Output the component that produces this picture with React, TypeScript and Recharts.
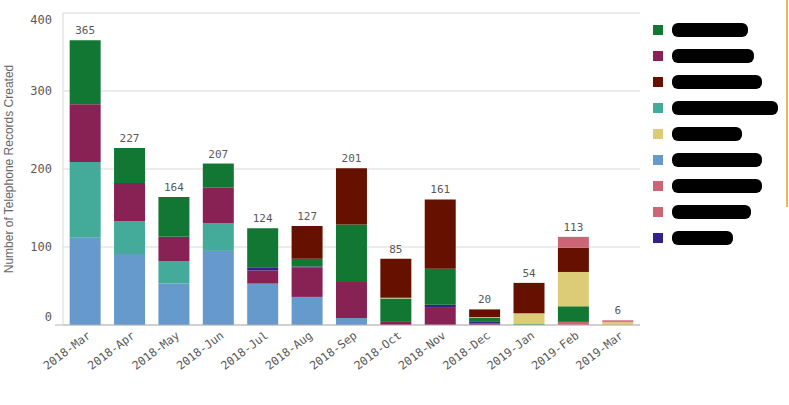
import {
  BarChart,
  Bar,
  XAxis,
  YAxis,
  CartesianGrid,
  LabelList,
} from "recharts";

const months = [
  "2018-Mar", "2018-Apr", "2018-May", "2018-Jun", "2018-Jul", "2018-Aug", "2018-Sep",
  "2018-Oct", "2018-Nov", "2018-Dec", "2019-Jan", "2019-Feb", "2019-Mar",
];

// series values, bottom of stack first
const blue = [112, 91, 53, 95, 53, 36, 9, 0, 0, 0, 0, 0, 0];
const teal = [97, 42, 29, 35, 0, 0, 0, 0, 0, 0, 0, 0, 0];
const purple = [74, 49, 31, 46, 17, 38, 46, 4, 23, 2, 0, 0, 0];
const navy = [0, 0, 0, 0, 4, 1, 0, 0, 3, 2, 0, 0, 0];
const pinkA = [0, 0, 0, 0, 0, 0, 0, 0, 0, 0, 0, 4, 0];
const green = [82, 45, 51, 31, 50, 10, 74, 30, 46, 5, 1, 20, 0];
const yellow = [0, 0, 0, 0, 0, 0, 0, 1, 0, 1, 14, 44, 4];
const darkRed = [0, 0, 0, 0, 0, 42, 72, 50, 89, 10, 39, 31, 0];
const pinkB = [0, 0, 0, 0, 0, 0, 0, 0, 0, 0, 0, 14, 2];

const yTicks = [0, 100, 200, 300, 400];

type Series = { key: string; name: string; color: string; values: number[] };

const stackSeries: Series[] = [
  { key: "blue", name: "Category F", color: "#6699cc", values: blue },
  { key: "teal", name: "Category D", color: "#44aa99", values: teal },
  { key: "purple", name: "Category B", color: "#882255", values: purple },
  { key: "navy", name: "Category I", color: "#332288", values: navy },
  { key: "pinkA", name: "Category G", color: "#cc6677", values: pinkA },
  { key: "green", name: "Category A", color: "#117733", values: green },
  { key: "yellow", name: "Category E", color: "#ddcc77", values: yellow },
  { key: "darkRed", name: "Category C", color: "#661100", values: darkRed },
  { key: "pinkB", name: "Category H", color: "#cc6677", values: pinkB },
];

// legend order as in the original, with redaction widths
const legendOrder = ["green", "purple", "darkRed", "teal", "yellow", "blue", "pinkA", "pinkB", "navy"];
const redactWidths = [76, 82, 90, 106, 70, 90, 90, 79, 61];

const rows = months.map((m, i) => {
  const row: Record<string, number | string> = { month: m };
  let total = 0;
  let top = "";
  stackSeries.forEach((s) => {
    row[s.key] = s.values[i];
    total += s.values[i];
    if (s.values[i] > 0) top = s.key;
  });
  row.total = total;
  row.top = top;
  return row;
});

const MONO = "'DejaVu Sans Mono', monospace";

const YTick = (props: any) => {
  const { y, payload } = props;
  const v = payload.value;
  let dy = 0;
  if (v === 400) dy = 6.5;
  if (v === 0) dy = -8;
  return (
    <g>
      {v === 0 && <line x1={55} x2={63} y1={y} y2={y} stroke="#b3b3b3" />}
      <text
        x={52}
        y={y + dy}
        textAnchor="end"
        dominantBaseline="central"
        fontFamily={MONO}
        fontSize={12}
        fill="#595959"
      >
        {v}
      </text>
    </g>
  );
};

const XTick = (props: any) => {
  const { x, y, payload } = props;
  const tx = x + 1;
  const ty = y - 3;
  return (
    <text
      x={tx}
      y={ty}
      textAnchor="end"
      dominantBaseline="hanging"
      transform={`rotate(-37, ${tx}, ${ty})`}
      fontFamily={MONO}
      fontSize={11.5}
      fill="#595959"
    >
      {payload.value}
    </text>
  );
};

const TotalLabel = (props: any) => {
  const { x, y, width, value } = props;
  if (value === null || value === undefined) return null;
  return (
    <text
      x={x + width / 2}
      y={y - 6}
      textAnchor="middle"
      fontFamily={MONO}
      fontSize={11}
      fill="#595959"
    >
      {value}
    </text>
  );
};

export default function App() {
  return (
    <div
      style={{
        position: "absolute",
        left: 0,
        top: 0,
        width: 789,
        height: 405,
        background: "#fff",
        overflow: "hidden",
      }}
    >
      <BarChart
        width={645}
        height={405}
        data={rows}
        margin={{ top: 13, right: 5, left: 0, bottom: 0 }}
        barCategoryGap="15%"
      >
        <CartesianGrid vertical={false} stroke="#d9d9d9" />
        <XAxis
          dataKey="month"
          height={80}
          interval={0}
          tickLine={false}
          axisLine={{ stroke: "#b3b3b3" }}
          tick={<XTick />}
        />
        <YAxis
          width={63}
          domain={[0, 400]}
          ticks={yTicks}
          tickLine={false}
          axisLine={{ stroke: "#d9d9d9" }}
          tick={<YTick />}
          label={{
            value: "Number of Telephone Records Created",
            angle: -90,
            position: "insideLeft",
            dx: 4,
            style: {
              textAnchor: "middle",
              fontFamily: "'Liberation Sans', Arial, sans-serif",
              fontSize: 12,
              fill: "#666666",
            },
          }}
        />
        {stackSeries.map((s) => (
          <Bar
            key={s.key}
            dataKey={s.key}
            name={s.name}
            stackId="a"
            fill={s.color}
            isAnimationActive={false}
          >
            <LabelList
              dataKey={(row: any) => (row.top === s.key ? row.total : null)}
              content={<TotalLabel />}
            />
          </Bar>
        ))}
      </BarChart>

      <div style={{ position: "absolute", left: 653, top: 17 }}>
        {legendOrder.map((k, i) => {
          const s = stackSeries.find((d) => d.key === k)!;
          return (
            <div
              key={k}
              style={{ display: "flex", alignItems: "center", height: 26 }}
            >
              <div style={{ width: 10, height: 10, background: s.color }} />
              <span
                style={{
                  marginLeft: 9,
                  width: redactWidths[i],
                  height: 14,
                  lineHeight: "14px",
                  background: "#000",
                  color: "#000",
                  borderRadius: 6,
                  fontFamily: "'Liberation Sans', Arial, sans-serif",
                  fontSize: 11,
                  overflow: "hidden",
                  whiteSpace: "nowrap",
                }}
              >
                {s.name}
              </span>
            </div>
          );
        })}
      </div>

      <div
        style={{
          position: "absolute",
          left: 786,
          top: 0,
          width: 2,
          height: 207,
          background: "#e8b95a",
        }}
      />
    </div>
  );
}
